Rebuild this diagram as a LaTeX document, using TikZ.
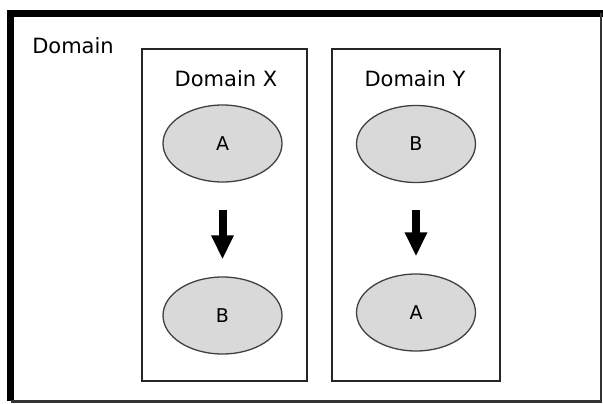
\documentclass[tikz,border=0pt]{standalone}
\usepackage{fontspec}
\setmainfont{DejaVu Sans}
\usepackage{tikz}
\usetikzlibrary{shapes.geometric,arrows.meta,positioning}
\definecolor{entgray}{HTML}{D9D9D9}
\tikzset
{
    domainbox/.style = {rectangle, draw=black!85, line width=1.5pt, minimum width=#1, minimum height=332pt, inner sep=0pt},
    domainlabel/.style = {font=\fontsize{21}{25}\selectfont, inner sep=0pt},
    entity/.style  = {ellipse, draw=black!75, line width=1.3pt, fill=entgray, minimum width=119pt, minimum height=77pt, inner sep=0pt, font=\fontsize{19}{23}\selectfont},
    maparrow/.style = {line width=8pt, -{Triangle[width=21pt,length=24pt]}, shorten <=27pt, shorten >=17pt}
}

\begin{document}
\begin{tikzpicture}[x=1pt,y=-1pt]
\useasboundingbox (0,0) rectangle (603,404);
% outer frame
\draw[line width=7pt] (10.5,401) -- (10.5,13.5) -- (603,13.5);
\draw[line width=2.5pt,black!80] (10.5,401.5) -- (601,401.5) -- (601,13.5);
\node[domainlabel] (dom) at (73,46) {Domain};

% the two domains
\node[domainbox=165pt] (domx) at (224.5,215) {};
\node[domainbox=168pt] (domy) at (416,215) {};
\node[domainlabel] (labx) at (226,79) {Domain X};
\node[domainlabel] (laby) at (415,79) {Domain Y};

\node[entity] (ax) at (222.5,143.5) {A};
\node[entity] (bx) at (222.5,315.5) {B};
\node[entity] (by) at (416,144) {B};
\node[entity] (ay) at (416,312.5) {A};

\draw[maparrow] (ax) -- (bx);
\draw[maparrow] (by) -- (ay);
\end{tikzpicture}
\end{document}
